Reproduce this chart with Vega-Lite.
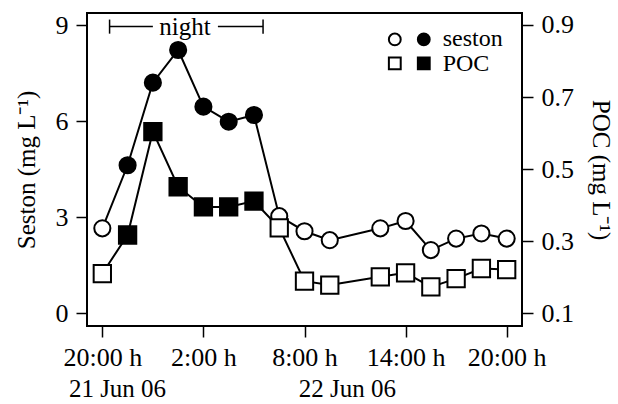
{
  "$schema": "https://vega.github.io/schema/vega-lite/v6.json",
  "autosize": "none",
  "width": 435,
  "height": 313,
  "padding": {"left": 87, "top": 13, "right": 96, "bottom": 78},
  "config": {
    "font": "Liberation Serif",
    "view": {"stroke": "black", "strokeWidth": 2},
    "axis": {
      "grid": false, "domain": false,
      "labelFont": "Liberation Serif", "titleFont": "Liberation Serif",
      "labelFontSize": 26, "titleFontSize": 25, "titleFontWeight": "normal",
      "labelColor": "black", "titleColor": "black",
      "tickColor": "black", "tickWidth": 1.5, "tickSize": 11
    }
  },
  "datasets": {
    "obs": [
      {"t": 0, "seston": 2.65, "poc": 0.21, "night": false},
      {"t": 1.5, "seston": 4.62, "poc": 0.317, "night": true},
      {"t": 3, "seston": 7.2, "poc": 0.604, "night": true},
      {"t": 4.5, "seston": 8.22, "poc": 0.451, "night": true},
      {"t": 6, "seston": 6.45, "poc": 0.395, "night": true},
      {"t": 7.5, "seston": 5.98, "poc": 0.395, "night": true},
      {"t": 9, "seston": 6.19, "poc": 0.411, "night": true},
      {"t": 10.5, "seston": 3.03, "poc": 0.337, "night": false},
      {"t": 12, "seston": 2.56, "poc": 0.189, "night": false},
      {"t": 13.5, "seston": 2.28, "poc": 0.178, "night": false},
      {"t": 16.5, "seston": 2.65, "poc": 0.201, "night": false},
      {"t": 18, "seston": 2.88, "poc": 0.212, "night": false},
      {"t": 19.5, "seston": 1.97, "poc": 0.173, "night": false},
      {"t": 21, "seston": 2.33, "poc": 0.196, "night": false},
      {"t": 22.5, "seston": 2.49, "poc": 0.224, "night": false},
      {"t": 24, "seston": 2.33, "poc": 0.221, "night": false}
    ]
  },
  "resolve": {"scale": {"y": "independent"}},
  "layer": [
    {
      "layer": [
        {
          "data": {"name": "obs"},
          "mark": {"type": "line", "color": "black", "strokeWidth": 2},
          "encoding": {
            "x": {"field": "t", "type": "quantitative",
                  "scale": {"domain": [-0.91, 24.91], "nice": false, "zero": false},
                  "axis": {"values": [0, 6, 12, 18, 24], "title": null, "labelPadding": 7,
                           "labelExpr": "datum.value == 0 ? '20:00 h' : datum.value == 6 ? '2:00 h' : datum.value == 12 ? '8:00 h' : datum.value == 18 ? '14:00 h' : '20:00 h'"}},
            "y": {"field": "seston", "type": "quantitative",
                  "scale": {"domain": [-0.4, 9.375], "nice": false, "zero": false},
                  "axis": {"values": [0, 3, 6, 9], "title": "Seston (mg L⁻¹)", "labelPadding": 8, "titlePadding": 16}}
          }
        },
        {
          "data": {"name": "obs"},
          "mark": {"type": "point", "shape": "circle", "filled": false, "stroke": "black", "strokeWidth": 2, "size": 260, "opacity": 1},
          "encoding": {
            "x": {"field": "t", "type": "quantitative"},
            "y": {"field": "seston", "type": "quantitative"},
            "fill": {"condition": {"test": "datum.night", "value": "black"}, "value": "white"}
          }
        },
        {
          "data": {"values": [{"a": 0.43, "b": 3.0, "y": 8.95}, {"a": 6.86, "b": 9.54, "y": 8.95}]},
          "mark": {"type": "rule", "color": "black", "strokeWidth": 1.5},
          "encoding": {
            "x": {"field": "a", "type": "quantitative"},
            "x2": {"field": "b"},
            "y": {"field": "y", "type": "quantitative"}
          }
        },
        {
          "data": {"values": [{"x": 0.43, "y1": 8.73, "y2": 9.17}, {"x": 9.54, "y1": 8.73, "y2": 9.17}]},
          "mark": {"type": "rule", "color": "black", "strokeWidth": 1.5},
          "encoding": {
            "x": {"field": "x", "type": "quantitative"},
            "y": {"field": "y1", "type": "quantitative"},
            "y2": {"field": "y2"}
          }
        },
        {
          "data": {"values": [{"x": 4.9, "y": 8.95, "label": "night"}]},
          "mark": {"type": "text", "fontSize": 25, "baseline": "middle", "align": "center", "color": "black"},
          "encoding": {
            "x": {"field": "x", "type": "quantitative"},
            "y": {"field": "y", "type": "quantitative"},
            "text": {"field": "label"}
          }
        },
        {
          "data": {"values": [
            {"x": 17.36, "y": 8.55, "shape": "circle", "night": false},
            {"x": 19.08, "y": 8.55, "shape": "circle", "night": true},
            {"x": 17.36, "y": 7.8, "shape": "square", "night": false},
            {"x": 19.08, "y": 7.8, "shape": "square", "night": true}
          ]},
          "mark": {"type": "point", "filled": false, "stroke": "black", "strokeWidth": 2, "size": 140, "opacity": 1},
          "encoding": {
            "x": {"field": "x", "type": "quantitative"},
            "y": {"field": "y", "type": "quantitative"},
            "shape": {"field": "shape", "type": "nominal", "scale": null, "legend": null},
            "fill": {"condition": {"test": "datum.night", "value": "black"}, "value": "white"}
          }
        },
        {
          "data": {"values": [
            {"x": 20.2, "y": 8.57, "label": "seston"},
            {"x": 20.2, "y": 7.79, "label": "POC"}
          ]},
          "mark": {"type": "text", "fontSize": 24, "baseline": "middle", "align": "left", "color": "black"},
          "encoding": {
            "x": {"field": "x", "type": "quantitative"},
            "y": {"field": "y", "type": "quantitative"},
            "text": {"field": "label"}
          }
        },
        {
          "data": {"values": [
            {"x": 0.9, "y": -2.38, "label": "21 Jun 06"},
            {"x": 14.55, "y": -2.38, "label": "22 Jun 06"}
          ]},
          "mark": {"type": "text", "fontSize": 25, "baseline": "middle", "align": "center", "color": "black", "clip": false},
          "encoding": {
            "x": {"field": "x", "type": "quantitative"},
            "y": {"field": "y", "type": "quantitative"},
            "text": {"field": "label"}
          }
        }
      ]
    },
    {
      "layer": [
        {
          "data": {"name": "obs"},
          "mark": {"type": "line", "color": "black", "strokeWidth": 2},
          "encoding": {
            "x": {"field": "t", "type": "quantitative"},
            "y": {"field": "poc", "type": "quantitative",
                  "scale": {"domain": [0.0644, 0.9333], "nice": false, "zero": false},
                  "axis": {"orient": "right", "values": [0.1, 0.3, 0.5, 0.7, 0.9], "format": ".1f",
                           "title": "POC (mg L⁻¹)", "labelPadding": 8, "titlePadding": 14}}
          }
        },
        {
          "data": {"name": "obs"},
          "mark": {"type": "point", "shape": "square", "filled": false, "stroke": "black", "strokeWidth": 2, "size": 300, "opacity": 1},
          "encoding": {
            "x": {"field": "t", "type": "quantitative"},
            "y": {"field": "poc", "type": "quantitative"},
            "fill": {"condition": {"test": "datum.night", "value": "black"}, "value": "white"}
          }
        }
      ]
    }
  ]
}
